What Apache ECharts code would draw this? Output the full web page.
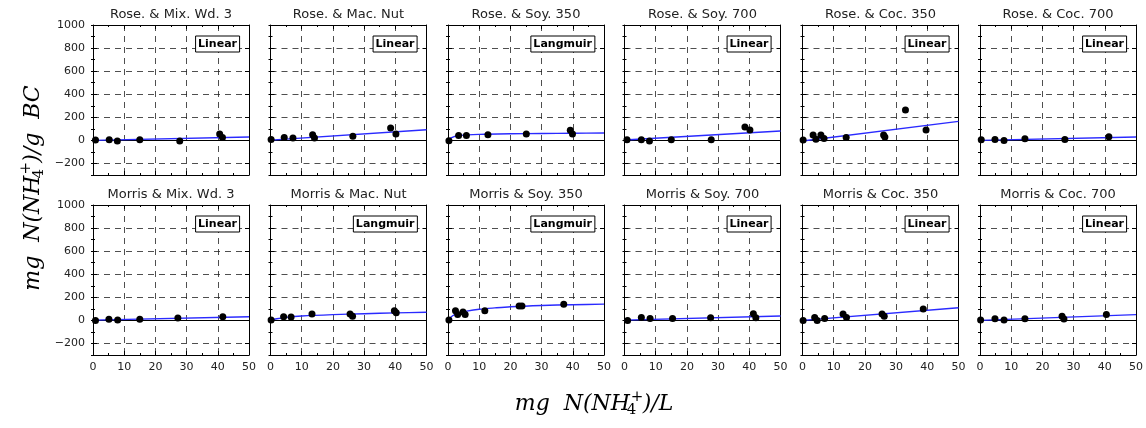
<!DOCTYPE html>
<html>
<head>
<meta charset="utf-8">
<script src="https://cdn.jsdelivr.net/npm/echarts@6/dist/echarts.min.js"></script>
<style>
html,body{margin:0;padding:0;background:#fff;}
#chart{width:1146px;height:428px;}
</style>
</head>
<body>
<div id="chart"></div>
<script>
// titles of the panels, row by row
const panelTitles = [
  'Rose. & Mix. Wd. 3', 'Rose. & Mac. Nut', 'Rose. & Soy. 350',
  'Rose. & Soy. 700', 'Rose. & Coc. 350', 'Rose. & Coc. 700',
  'Morris & Mix. Wd. 3', 'Morris & Mac. Nut', 'Morris & Soy. 350',
  'Morris & Soy. 700', 'Morris & Coc. 350', 'Morris & Coc. 700'
];
const fitTypes = [
  'Linear', 'Linear', 'Langmuir', 'Linear', 'Linear', 'Linear',
  'Linear', 'Langmuir', 'Langmuir', 'Linear', 'Linear', 'Linear'
];
const yTicks = [-200, 0, 200, 400, 600, 800, 1000];

// measured points [mg/L, mg/g]
const roseMixWd3 = [[0.8,3],[5.2,5],[7.8,-5],[15,5],[27.8,-5],[40.6,55],[41.5,26]];
const roseMacNut = [[0.2,8],[4.4,26],[7.2,20],[13.5,49],[14.1,20],[26.4,35],[38.5,107],[40.2,55]];
const roseSoy350 = [[0.3,-3],[3.4,43],[5.9,43],[12.8,49],[25.1,55],[39.2,87],[39.9,55]];
const roseSoy700 = [[0.8,5],[5.4,5],[8.0,-5],[15,5],[27.8,5],[38.6,115],[40.2,89]];
const roseCoc350 = [[0.2,3],[3.4,46],[4.3,10],[5.9,46],[6.9,16],[14,26],[26,46],[26.4,30],[33,263],[39.6,89]];
const roseCoc700 = [[0.4,5],[4.8,8],[7.7,0],[14.4,14],[27.2,8],[41.3,32]];
const morrisMixWd3 = [[0.8,0],[5.1,9],[7.9,3],[15,9],[27.2,20],[41.6,32]];
const morrisMacNut = [[0.2,3],[4.2,32],[6.6,29],[13.3,55],[25.5,55],[26.3,35],[39.7,84],[40.3,67]];
const morrisSoy350 = [[0.3,3],[2.4,84],[3.1,52],[4.8,73],[5.5,52],[11.8,84],[22.8,125],[23.7,125],[37.1,139]];
const morrisSoy700 = [[1,0],[5.4,26],[8.2,17],[15.4,17],[27.6,23],[41.3,58],[42.1,23]];
const morrisCoc350 = [[0.2,0],[3.9,26],[4.7,0],[7.1,17],[13,55],[14.1,26],[25.5,55],[26.2,35],[38.7,99]];
const morrisCoc700 = [[0.2,3],[4.8,15],[7.7,3],[14.4,15],[26.3,35],[26.9,12],[40.5,50]];

// fitted curves
const roseMixWd3Fit = [[0,0],[50,29]];
const roseMacNutFit = [[0,2],[50,92]];
const roseSoy350Fit = [[0,0],[1,22],[2,33],[3,40],[5,46],[8,50],[12,53],[20,57],[30,60],[40,62],[50,64]];
const roseSoy700Fit = [[0,3],[50,81]];
const roseCoc350Fit = [[0,-5],[50,165]];
const roseCoc700Fit = [[0,0],[50,29]];
const morrisMixWd3Fit = [[0,2],[50,32]];
const morrisMacNutFit = [[0,0],[2,14],[5,26],[10,38],[20,50],[30,58],[40,65],[50,70]];
const morrisSoy350Fit = [[0,0],[1,30],[2,48],[4,68],[6,80],[10,96],[15,108],[20,118],[30,129],[40,136],[50,141]];
const morrisSoy700Fit = [[0,2],[50,38]];
const morrisCoc350Fit = [[0,0],[50,110]];
const morrisCoc700Fit = [[0,0],[50,50]];

const panelPoints = [roseMixWd3, roseMacNut, roseSoy350, roseSoy700, roseCoc350, roseCoc700,
  morrisMixWd3, morrisMacNut, morrisSoy350, morrisSoy700, morrisCoc350, morrisCoc700];
const panelFits = [roseMixWd3Fit, roseMacNutFit, roseSoy350Fit, roseSoy700Fit, roseCoc350Fit, roseCoc700Fit,
  morrisMixWd3Fit, morrisMacNutFit, morrisSoy350Fit, morrisSoy700Fit, morrisCoc350Fit, morrisCoc700Fit];

const chart = echarts.init(document.getElementById('chart'));

const panelLefts = [93, 270.5, 448, 624.5, 802.5, 980];
const rowTops = [25, 205];
const W = 156, H = 150;
const tickFont = {color:'#222', fontSize:11, fontFamily:'DejaVu Sans'};
const black = {color:'#000', width:1};
const gridLine = {color:'#222', width:0.8, type:[6,5]};

let grids = [], xAxes = [], yAxes = [], series = [], titles = [], graphics = [];

for (let i = 0; i < 12; i++) {
  const row = Math.floor(i / 6), col = i % 6;
  const left = panelLefts[col], top = rowTops[row];
  grids.push({left:left, top:top, width:W, height:H, show:false, outerBoundsMode:'none'});

  // bottom axis with labels + mirrored top axis
  xAxes.push({
    type:'value', gridIndex:i, position:'bottom', min:0, max:50, interval:10,
    axisLine:{show:true, onZero:false, lineStyle:black},
    axisTick:{show:true, inside:true, length:4, lineStyle:black},
    minorTick:{show:true, splitNumber:2, length:2, lineStyle:black},
    axisLabel:Object.assign({show: row === 1, margin:7}, tickFont),
    splitLine:{show:true, lineStyle:gridLine}
  });
  xAxes.push({
    type:'value', gridIndex:i, position:'top', min:0, max:50, interval:10,
    axisLine:{show:true, onZero:false, lineStyle:black},
    axisTick:{show:true, inside:true, length:4, lineStyle:black},
    minorTick:{show:true, splitNumber:2, length:2, lineStyle:black},
    axisLabel:{show:false}, splitLine:{show:false}
  });

  // left: major (labels, grid) and minor ticks; right: same, no labels
  ['left', 'right'].forEach(pos => {
    yAxes.push({
      type:'value', gridIndex:i, position:pos, min:-300, max:1000, interval:100,
      axisLine:{show:true, onZero:false, lineStyle:black},
      axisTick:{show:true, inside:true, length:4, customValues:yTicks, lineStyle:black},
      axisLabel:Object.assign({
        show: pos === 'left' && col === 0, margin:8, customValues:yTicks,
        formatter: v => v < 0 ? '\u2212' + (-v) : String(v)
      }, tickFont),
      splitLine:{show: pos === 'left', lineStyle:gridLine}
    });
    yAxes.push({
      type:'value', gridIndex:i, position:pos, min:-300, max:1000, interval:100,
      axisLine:{show:false},
      axisTick:{show:true, inside:true, length:2, lineStyle:black},
      axisLabel:{show:false}, splitLine:{show:false}
    });
  });

  series.push({
    type:'line', xAxisIndex:2*i, yAxisIndex:4*i, data:panelFits[i],
    showSymbol:false, smooth: fitTypes[i] === 'Langmuir' ? 0.3 : false,
    lineStyle:{color:'#2a2aff', width:1.4}, z:3,
    markLine:{silent:true, symbol:'none', label:{show:false}, z:2,
      lineStyle:{color:'#000', width:1, type:'solid'}, data:[{yAxis:0}]}
  });
  series.push({
    type:'scatter', xAxisIndex:2*i, yAxisIndex:4*i, data:panelPoints[i],
    symbolSize:7, itemStyle:{color:'#000', opacity:1}, z:4
  });

  graphics.push({
    type:'text', x:left + W / 2, y:top - 10.5,
    style:{text:panelTitles[i], font:'13px "DejaVu Sans"', fill:'#222',
      textAlign:'center', textVerticalAlign:'middle'}
  });
  titles.push({
    text:fitTypes[i], right:1146 - (left + W - 9), top:top + 10.5,
    padding:[2,3], borderColor:'#000', borderWidth:1, backgroundColor:'#fff',
    textStyle:{fontSize:11, fontWeight:'bold', fontFamily:'DejaVu Sans', color:'#000', lineHeight:13}
  });
}

// math-style axis names: NH with stacked sub 4 and sup +
const mathRich = {
  t:{fontFamily:'DejaVu Serif', fontStyle:'italic', fontSize:22, lineHeight:28, color:'#000'},
  g:{fontSize:6, lineHeight:10},
  sb:{fontFamily:'DejaVu Serif', fontSize:15, lineHeight:22, verticalAlign:'bottom', width:0, color:'#000'},
  sp:{fontFamily:'DejaVu Serif', fontSize:15, lineHeight:14, verticalAlign:'top', width:11, color:'#000'}
};
graphics.push({
  type:'text', x:33, y:188, rotation:Math.PI / 2,
  style:{text:'{t|mg  N(NH}{g| }{sb|4}{sp|+}{t|)/g  BC}', rich:mathRich,
    textAlign:'center', textVerticalAlign:'middle'}
});
graphics.push({
  type:'text', x:594, y:404,
  style:{text:'{t|mg  N(NH}{g| }{sb|4}{sp|+}{t|)/L}', rich:mathRich,
    textAlign:'center', textVerticalAlign:'middle'}
});

chart.setOption({
  animation:false,
  backgroundColor:'#fff',
  title:titles,
  grid:grids,
  xAxis:xAxes,
  yAxis:yAxes,
  series:series,
  graphic:graphics
});
</script>
</body>
</html>
